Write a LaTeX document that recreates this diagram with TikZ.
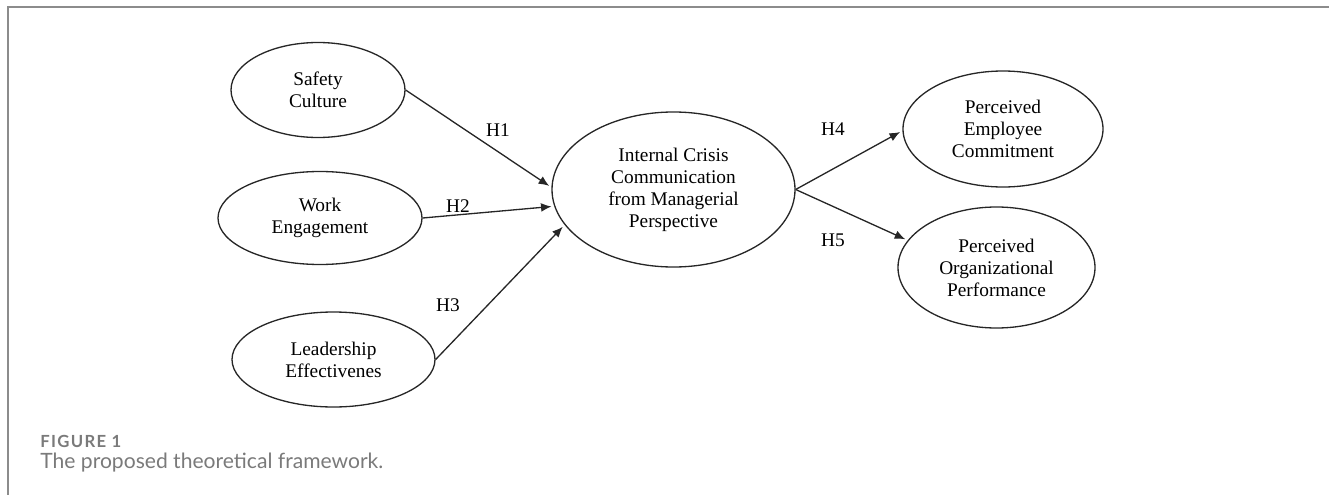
\documentclass[tikz,border=0pt]{standalone}
\usepackage{fontspec}
\setmainfont{Liberation Serif}
\newfontfamily\captionfont{Lato}
\usepackage{xcolor}
\usetikzlibrary{arrows.meta}
\usetikzlibrary{shapes.geometric}
\usetikzlibrary{positioning}
\definecolor{framegray}{HTML}{8C8C8C}
\definecolor{capgray}{HTML}{7A7A7A}
\definecolor{inkgray}{HTML}{262626}
\tikzset{
    construct/.style={
           ellipse,
           draw=inkgray, line width=0.75pt,
           inner sep=0pt,
           align=center,
           font=\fontsize{11}{12.5}\selectfont,
           },
    hyplabel/.style={
           inner sep=0pt,
           font=\fontsize{11}{12.5}\selectfont,
           },
    hyparrow/.style={
           -{Latex[length=6pt,width=5pt]},
           color=inkgray, line width=0.75pt,
           shorten >=1.5pt,
           },
}

\begin{document}
\begin{tikzpicture}[x=1cm, y=1cm]
	\useasboundingbox (0,0) rectangle (26.58,-9.9);
	% frame
	\draw[framegray, line width=1.1pt] (0.16,-9.9) -- (0.16,-0.14) -- (26.58,-0.14);

	% antecedents
	\node[construct, minimum width=3.48cm, minimum height=1.9cm] (safety) at (6.36,-1.80) {Safety\\Culture};
	\node[construct, minimum width=4.08cm, minimum height=1.86cm] (work) at (6.40,-4.36) {Work\\Engagement};
	\node[construct, minimum width=4.06cm, minimum height=1.9cm] (lead) at (6.67,-7.19) {Leadership\\Effectivenes};

	% mediator
	\node[construct, minimum width=4.86cm, minimum height=3.1cm] (icc) at (13.47,-3.79) {
		Internal Crisis\\Communication\\from Managerial\\Perspective
	};

	% outcomes
	\node[construct, minimum width=4.0cm, minimum height=2.32cm] (pec) at (20.06,-2.58) {Perceived\\Employee\\Commitment};
	\node[construct, minimum width=3.94cm, minimum height=2.42cm] (pop) at (19.93,-5.35) {Perceived\\Organizational\\Performance};

	\path[hyparrow]	(safety.east) edge (icc.179)
				(work.east) edge (icc.188)
				(lead.east) edge (icc.198)
				(icc.east) edge (pec.181)
				(icc.east) edge (pop.163);

	\node[hyplabel] (h1) at (9.96,-2.60) {H1};
	\node[hyplabel] (h2) at (9.16,-4.12) {H2};
	\node[hyplabel] (h3) at (8.96,-6.10) {H3};
	\node[hyplabel] (h4) at (16.66,-2.58) {H4};
	\node[hyplabel] (h5) at (16.66,-4.80) {H5};

	% caption
	\node[anchor=west, inner sep=0pt, text=capgray, font=\captionfont\bfseries\fontsize{9.5}{11}\selectfont\addfontfeature{LetterSpace=8}] (fig) at (0.80,-8.82) {FIGURE 1};
	\node[anchor=west, inner sep=0pt, text=capgray, font=\captionfont\fontsize{12}{14}\selectfont] (cap) at (0.80,-9.26) {The proposed theoretical framework.};
\end{tikzpicture}
\end{document}
